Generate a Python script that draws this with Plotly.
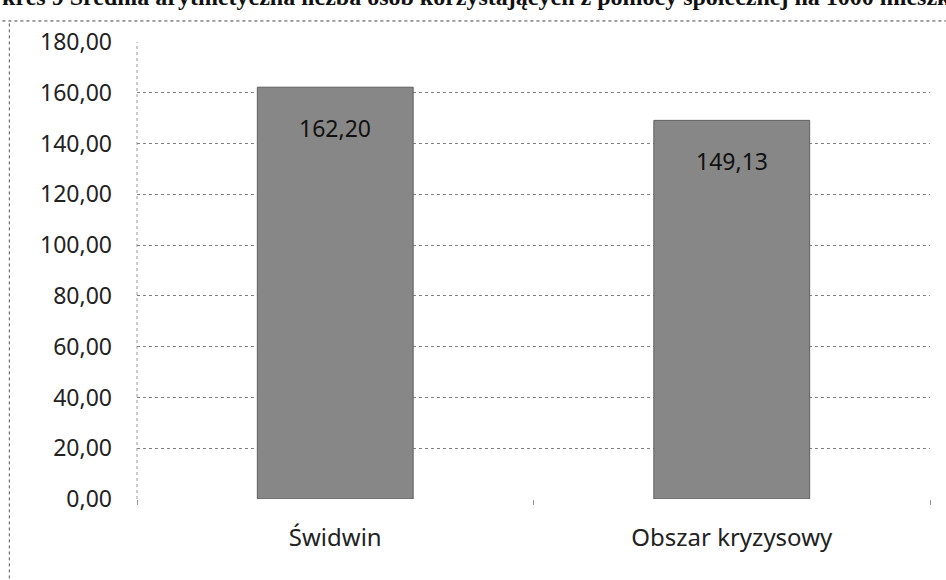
import plotly.graph_objects as go

categories = ['Świdwin', 'Obszar kryzysowy']
values = [162.20, 149.13]
value_labels = ['162,20', '149,13']
title_text = 'Wykres 9 Średnia arytmetyczna liczba osób korzystających z pomocy społecznej na 1000 mieszkańców'

fig = go.Figure()
fig.add_trace(go.Bar(
    x=categories,
    y=values,
    marker=dict(color='#878787', line=dict(color='#5e5e5e', width=1)),
    width=0.393,
    showlegend=False
))

# data labels inside the bars, a bit below the top
for cat, val, lab in zip(categories, values, value_labels):
    fig.add_annotation(
        x=cat, y=val, text=lab, showarrow=False,
        yshift=-41, font=dict(family='Noto Sans', size=23, color='#111111')
    )

# scanned caption, cropped at the top and left edge of the page
fig.add_annotation(
    x=0, y=1.0, xref='paper', yref='paper', xanchor='left', yanchor='bottom',
    xshift=-172, yshift=30,
    text='<b>' + title_text + '</b>',
    showarrow=False, font=dict(family='Liberation Serif', size=24, color='#111111')
)

# dotted frame of the pasted chart and its y axis
fig.add_shape(type='line', xref='paper', yref='paper', x0=-0.2, x1=1.2, y0=1.046, y1=1.046,
              line=dict(color='#444444', width=1, dash='dot'))
fig.add_shape(type='line', xref='paper', yref='paper', x0=-0.161, x1=-0.161, y0=-0.2, y1=1.046,
              line=dict(color='#555555', width=1, dash='dot'))
fig.add_shape(type='line', xref='paper', yref='paper', x0=0, x1=0, y0=0, y1=1,
              line=dict(color='#999999', width=1, dash='dot'))

fig.update_layout(
    width=946, height=580,
    margin=dict(l=137, r=16, t=42, b=81),
    plot_bgcolor='white', paper_bgcolor='white',
    separators=', ',
    xaxis=dict(
        showgrid=False, showline=False, zeroline=False,
        tickfont=dict(family='Noto Sans', size=24, color='#222222'),
        ticks='outside', tickson='boundaries', ticklen=5, tickcolor='#999999',
        ticklabelstandoff=22
    ),
    yaxis=dict(
        range=[0, 180], dtick=20, tickformat='.2f',
        showgrid=True, gridcolor='#808080', griddash='dot', gridwidth=1,
        showline=False, zeroline=False,
        tickfont=dict(family='Noto Sans', size=23, color='#222222'),
        ticks='', ticklabelstandoff=24
    )
)

fig.write_html("out.html", config={'displayModeBar': False},
               post_script="document.body.style.margin='0';")
